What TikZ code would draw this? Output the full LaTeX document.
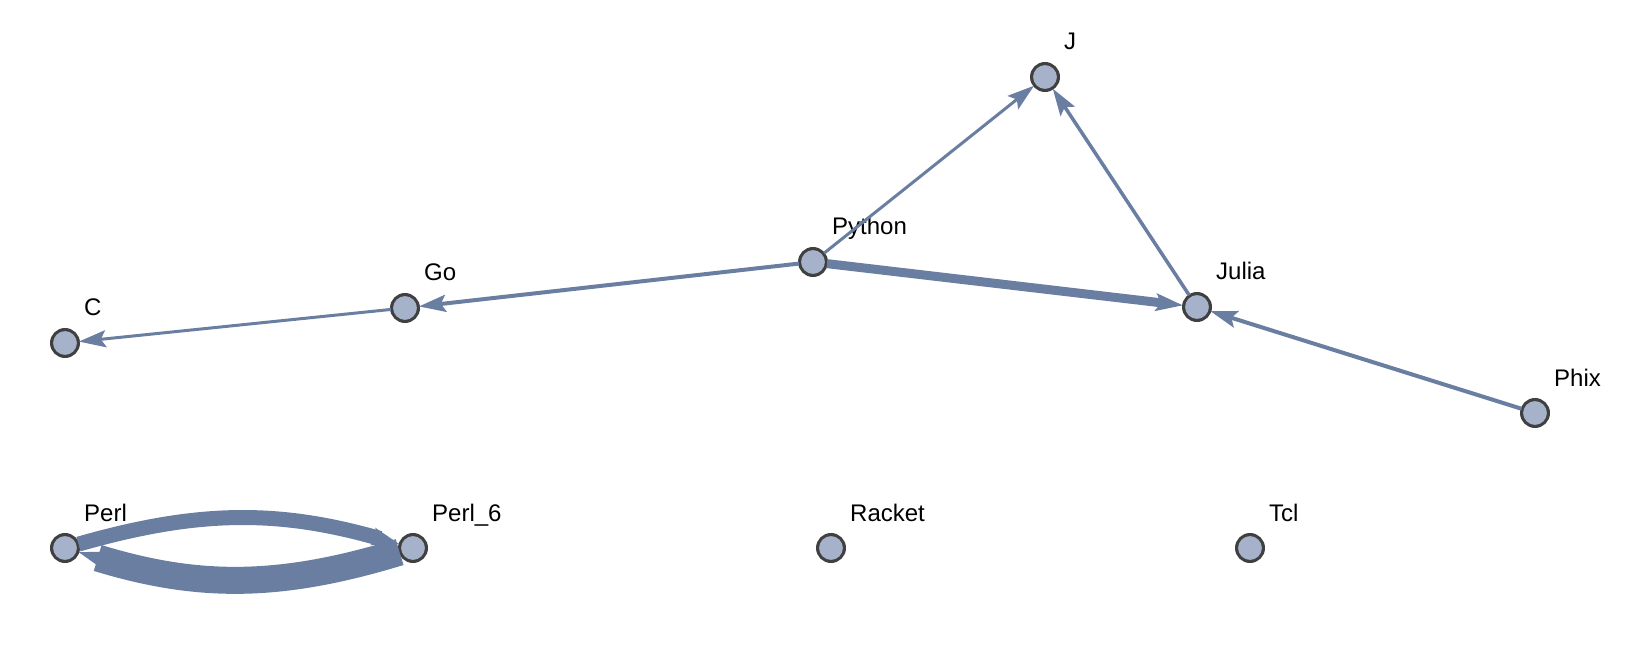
\documentclass[tikz,border=0pt]{standalone}
\usepackage{fontspec}
\setmainfont{Liberation Sans}
\usetikzlibrary{arrows.meta}
\definecolor{edgec}{RGB}{106,126,162}
\definecolor{nodefill}{RGB}{166,178,202}
\definecolor{nodeline}{RGB}{64,64,64}
\tikzset{
  vert/.style={circle, draw=nodeline, fill=nodefill, line width=2pt, minimum size=28pt, inner sep=0pt, outer sep=0pt},
  vlabel/.style={anchor=base west, inner sep=0pt, font=\fontsize{24}{28}\selectfont},
  edge/.style={draw=edgec, -{Stealth[length=27pt, width=17pt, inset=5pt]}},
}
\begin{document}
\begin{tikzpicture}[x=1pt,y=1pt]
\useasboundingbox (0,0) rectangle (1652,-652);
% nodes
\node[vert] (J) at (1045,-77) {};
\node[vert] (Python) at (813,-262) {};
\node[vert] (Go) at (405,-308) {};
\node[vert] (C) at (65,-343) {};
\node[vert] (Julia) at (1197,-307) {};
\node[vert] (Phix) at (1535,-413) {};
\node[vert] (Perl) at (65,-548) {};
\node[vert] (Perl6) at (413,-548) {};
\node[vert] (Racket) at (831,-548) {};
\node[vert] (Tcl) at (1250,-548) {};
% labels
\foreach \n/\t in {J/J, Python/Python, Go/Go, C/C, Julia/Julia, Phix/Phix, Perl/Perl, Perl6/Perl\_6, Racket/Racket, Tcl/Tcl}
  \node[vlabel] (l\n) at ([xshift=19pt,yshift=27pt]\n.center) {\t};
% edges
\draw[edge, line width=3pt] (Python) -- (J);
\draw[edge, line width=3.5pt] (Julia) -- (J);
\draw[edge, line width=4pt] (Python) -- (Go);
\draw[edge, line width=3pt] (Go) -- (C);
\draw[edge, line width=9pt] (Python) -- (Julia);
\draw[edge, line width=4pt] (Phix) -- (Julia);
\draw[edge, line width=15pt] (Perl) to[bend left=16] (Perl6);
\draw[edge, line width=27pt] (Perl6) to[bend left=17] (Perl);
% redraw nodes on top
\foreach \n in {J,Python,Go,C,Julia,Phix,Perl,Perl6,Racket,Tcl}
  \draw[draw=nodeline, fill=nodefill, line width=2pt] (\n.center) circle (13pt);
\end{tikzpicture}
\end{document}
